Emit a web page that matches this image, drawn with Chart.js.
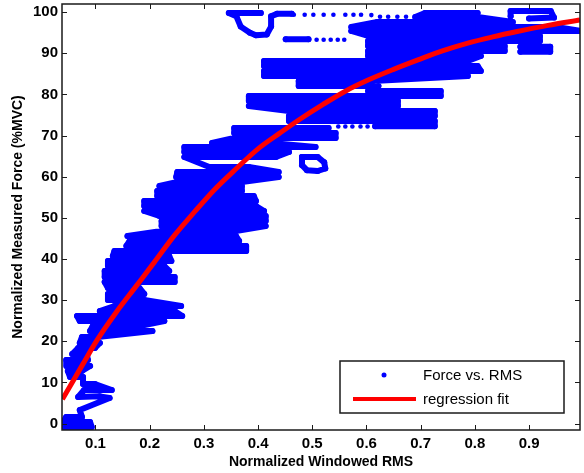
<!DOCTYPE html>
<html lang="en">
<head>
    <meta charset="UTF-8">
    <title>Force vs. RMS</title>
    <script src="https://cdn.jsdelivr.net/npm/chart.js"></script>
    <style>
        html, body { margin: 0; padding: 0; background: #fff; }
        canvas { display: block; }
    </style>
</head>
<body>
    <canvas id="forceChart" width="584" height="473"></canvas>

    <script>
        // Measured trace, null breaks the line between pieces
        const traceRms = [
            0.040, 0.093, 0.090, 0.040, 0.046, 0.075, 0.071, 0.126, 0.108, 0.068,
            0.079, 0.130, 0.099, 0.077, 0.077, 0.053, 0.049, 0.075, 0.090, 0.047,
            0.046, 0.086, 0.084, 0.057, 0.068, 0.099, 0.108, 0.071, 0.075, 0.104,
            0.205, 0.090, 0.095, 0.181, 0.227, 0.071, 0.066, 0.260, 0.246, 0.108,
            0.135, 0.258, 0.190, 0.123, 0.123, 0.190, 0.181, 0.123, 0.117, 0.246,
            0.246, 0.117, 0.117, 0.236, 0.227, 0.123, 0.123, 0.240, 0.236, 0.132,
            0.135, 0.378, 0.378, 0.157, 0.163, 0.365, 0.359, 0.159, 0.222, 0.359,
            0.414, 0.222, 0.222, 0.414, 0.414, 0.218, 0.190, 0.411, 0.396, 0.190,
            0.190, 0.396, 0.392, 0.214, 0.214, 0.370, 0.370, 0.218, 0.251, 0.370,
            0.438, 0.249, 0.251, 0.438, 0.383, 0.310, 0.264, 0.433, 0.457, 0.264,
            0.264, 0.506, 0.424, 0.315, 0.356, 0.543, 0.543, 0.356, 0.356, 0.530,
            null,
            0.616, 0.726, 0.726, 0.457, 0.457, 0.726, 0.726, 0.457, 0.383, 0.658,
            0.658, 0.383, 0.383, 0.737, 0.737, 0.603, 0.622, 0.475, 0.475, 0.612,
            0.787, 0.411, 0.411, 0.811, 0.805, 0.411, 0.411, 0.787, 0.811, 0.603,
            0.603, 0.855, 0.855, 0.603, 0.603, 0.920, 0.920, 0.603, 0.572, 0.996,
            0.950, 0.572, 0.620, 0.870, 0.805, 0.690, 0.708, 0.805,
            null,
            0.405, 0.346, 0.360, 0.368, 0.385, 0.396, 0.416, 0.424, 0.424, 0.435, 0.462,
            null,
            0.451, 0.493,
            null,
            0.481, 0.510, 0.522, 0.524, 0.510, 0.490, 0.481, 0.481,
            null,
            0.884, 0.939, 0.939, 0.884,
            null,
            0.900, 0.946, 0.940, 0.866, 0.866
        ];
        const traceForce = [
            -0.85, -0.85, 0.36, 0.36, 1.58, 1.58, 3.28, 6.20, 6.60, 6.44,
            8.15, 8.15, 9.61, 9.61, 11.31, 11.31, 12.77, 12.77, 13.98, 13.98,
            15.44, 15.44, 16.90, 16.90, 18.36, 18.36, 19.58, 19.58, 21.04, 21.04,
            22.50, 22.50, 23.71, 23.71, 24.93, 24.93, 26.14, 26.14, 27.36, 27.36,
            28.57, 28.57, 30.03, 30.03, 31.49, 31.49, 32.95, 32.95, 34.41, 34.41,
            35.63, 35.63, 37.09, 37.09, 38.30, 38.30, 39.52, 39.52, 40.73, 40.73,
            41.95, 41.95, 43.17, 43.17, 44.38, 44.38, 45.60, 45.60, 46.81, 46.81,
            48.03, 48.03, 49.25, 49.25, 50.46, 50.46, 51.68, 51.68, 52.90, 52.90,
            54.11, 54.11, 55.33, 55.33, 56.54, 56.54, 57.76, 57.76, 58.73, 58.73,
            59.95, 59.95, 61.16, 61.16, 62.38, 62.38, 64.81, 64.81, 66.03, 66.03,
            67.24, 67.24, 68.21, 68.21, 69.43, 69.43, 70.65, 70.65, 71.86, 71.86,
            null,
            72.30, 72.30, 73.56, 73.56, 74.78, 74.78, 75.99, 75.99, 77.21, 77.21,
            78.43, 78.43, 79.64, 79.64, 80.86, 80.86, 82.08, 82.08, 83.29, 83.29,
            84.51, 84.51, 85.72, 85.72, 86.94, 86.94, 88.16, 88.16, 89.37, 89.37,
            90.59, 90.59, 91.81, 91.81, 93.02, 93.02, 94.24, 94.24, 95.45, 95.45,
            96.43, 96.43, 97.64, 97.64, 98.86, 98.86, 99.83, 99.83,
            null,
            99.8, 99.8, 99.0, 96.5, 95.0, 94.4, 94.6, 96.5, 99.0, 99.6, 99.6,
            null,
            93.4, 93.4,
            null,
            64.8, 64.8, 63.5, 62.0, 61.4, 61.6, 62.8, 64.8,
            null,
            91.6, 91.6, 90.4, 90.4,
            null,
            98.5, 98.7, 100.3, 100.3, 99.0
        ];

        // Isolated samples where the trace thins out into single dots
        const dotRms = [
            0.466, 0.486, 0.502, 0.521, 0.539, 0.561, 0.576, 0.590, 0.609,
            0.625, 0.640, 0.657, 0.673, 0.690,
            0.508, 0.521, 0.534, 0.547, 0.559,
            0.548, 0.561, 0.574, 0.589, 0.602
        ];
        const dotForce = [
            99.4, 99.4, 99.4, 99.4, 99.4, 99.4, 99.4, 99.4, 99.3,
            98.9, 98.9, 98.9, 98.9, 98.9,
            93.3, 93.3, 93.3, 93.3, 93.3,
            72.2, 72.2, 72.2, 72.2, 72.2
        ];

        // Regression fit curve
        const fitRms = [0.039, 0.077, 0.102, 0.138, 0.175, 0.209, 0.246, 0.283, 0.319, 0.360, 0.401, 0.440,
                        0.475, 0.520, 0.561, 0.603, 0.650, 0.695, 0.740, 0.787, 0.833, 0.878, 0.935, 0.994];
        const fitForce = [5.9, 14.5, 20.1, 27.0, 33.4, 39.3, 45.8, 51.5, 56.8, 62.0, 66.9, 70.6,
                          73.8, 77.6, 80.8, 83.5, 86.1, 88.4, 90.6, 92.5, 94.0, 95.3, 96.8, 98.1];

        const xTicks = [0.1, 0.2, 0.3, 0.4, 0.5, 0.6, 0.7, 0.8, 0.9];
        const yTicks = [0, 10, 20, 30, 40, 50, 60, 70, 80, 90, 100];

        const BLUE = '#0000ff';
        const RED = '#ff0000';

        function toPoints(xs, ys) {
            return xs.map((x, i) => ({ x: x, y: ys[i] }));
        }

        // matlab style box: frame, inward ticks and the legend
        const matlabBox = {
            id: 'matlabBox',
            afterDraw(chart) {
                const { ctx, chartArea: a, scales } = chart;
                ctx.save();
                ctx.strokeStyle = '#1a1a1a';
                ctx.lineWidth = 1.5;
                ctx.strokeRect(a.left, a.top, a.right - a.left, a.bottom - a.top);

                ctx.lineWidth = 1;
                ctx.beginPath();
                scales.x.ticks.forEach(t => {
                    const px = Math.round(scales.x.getPixelForValue(t.value)) + 0.5;
                    ctx.moveTo(px, a.bottom); ctx.lineTo(px, a.bottom - 5);
                    ctx.moveTo(px, a.top); ctx.lineTo(px, a.top + 5);
                });
                scales.y.ticks.forEach(t => {
                    const py = Math.round(scales.y.getPixelForValue(t.value)) + 0.5;
                    ctx.moveTo(a.left, py); ctx.lineTo(a.left + 5, py);
                    ctx.moveTo(a.right, py); ctx.lineTo(a.right - 5, py);
                });
                ctx.stroke();

                // legend box
                const lx = a.right - 240, ly = a.bottom - 69, lw = 224, lh = 52;
                ctx.fillStyle = '#fff';
                ctx.fillRect(lx, ly, lw, lh);
                ctx.lineWidth = 1.5;
                ctx.strokeRect(lx, ly, lw, lh);

                ctx.fillStyle = BLUE;
                ctx.beginPath();
                ctx.arc(lx + 44, ly + 14, 2.5, 0, Math.PI * 2);
                ctx.fill();

                ctx.strokeStyle = RED;
                ctx.lineWidth = 4;
                ctx.beginPath();
                ctx.moveTo(lx + 13, ly + 38);
                ctx.lineTo(lx + 76, ly + 38);
                ctx.stroke();

                ctx.fillStyle = '#000';
                ctx.font = '15px "Liberation Sans", Arial, sans-serif';
                ctx.textBaseline = 'middle';
                ctx.textAlign = 'left';
                ctx.fillText(chart.data.datasets[1].label, lx + 83, ly + 15);
                ctx.fillText(chart.data.datasets[0].label, lx + 83, ly + 39);
                ctx.restore();
            }
        };

        const tickFont = { family: '"Liberation Sans", Arial, sans-serif', size: 15, weight: 'bold' };
        const titleFont = { family: '"Liberation Sans", Arial, sans-serif', size: 14, weight: 'bold' };

        const ctx = document.getElementById('forceChart').getContext('2d');
        new Chart(ctx, {
            type: 'scatter',
            data: {
                datasets: [
                    {
                        label: 'regression fit',
                        data: toPoints(fitRms, fitForce),
                        showLine: true,
                        borderColor: RED,
                        backgroundColor: RED,
                        borderWidth: 5,
                        pointRadius: 0,
                        cubicInterpolationMode: 'monotone',
                        order: 0
                    },
                    {
                        label: 'Force vs. RMS',
                        data: toPoints(traceRms, traceForce),
                        showLine: true,
                        spanGaps: false,
                        borderColor: BLUE,
                        backgroundColor: BLUE,
                        borderWidth: 6,
                        borderJoinStyle: 'round',
                        borderCapStyle: 'round',
                        pointRadius: 3,
                        pointBorderWidth: 0,
                        order: 1
                    },
                    {
                        label: 'Force vs. RMS dots',
                        data: toPoints(dotRms, dotForce),
                        showLine: false,
                        backgroundColor: BLUE,
                        borderColor: BLUE,
                        pointRadius: 2.3,
                        pointBorderWidth: 0,
                        order: 2
                    }
                ]
            },
            options: {
                responsive: false,
                devicePixelRatio: 1,
                animation: false,
                events: [],
                layout: { padding: { top: 4, right: 1, left: 0, bottom: 0 } },
                plugins: {
                    legend: { display: false },
                    tooltip: { enabled: false }
                },
                scales: {
                    x: {
                        type: 'linear',
                        min: 0.0382,
                        max: 0.994,
                        grid: { display: false, drawTicks: false },
                        border: { display: false },
                        afterBuildTicks: s => { s.ticks = xTicks.map(v => ({ value: v })); },
                        afterFit: s => { s.height = 43; s.paddingLeft = 0; s.paddingRight = 0; },
                        ticks: {
                            color: '#000',
                            font: tickFont,
                            padding: 5,
                            maxRotation: 0,
                            callback: v => v.toFixed(1)
                        },
                        title: {
                            display: true,
                            text: 'Normalized Windowed RMS',
                            color: '#000',
                            font: titleFont,
                            padding: { top: 0, bottom: 2 }
                        }
                    },
                    y: {
                        type: 'linear',
                        min: -1.58,
                        max: 102.0,
                        grid: { display: false, drawTicks: false },
                        border: { display: false },
                        afterBuildTicks: s => { s.ticks = yTicks.map(v => ({ value: v })); },
                        afterFit: s => { s.width = 62; s.paddingTop = 0; s.paddingBottom = 0; },
                        ticks: {
                            color: '#000',
                            font: tickFont,
                            padding: 4,
                            callback: v => String(v)
                        },
                        title: {
                            display: true,
                            text: 'Normalized Measured Force (%MVC)',
                            color: '#000',
                            font: titleFont,
                            padding: { top: 10, bottom: 0 }
                        }
                    }
                }
            },
            plugins: [matlabBox]
        });
    </script>
</body>
</html>
